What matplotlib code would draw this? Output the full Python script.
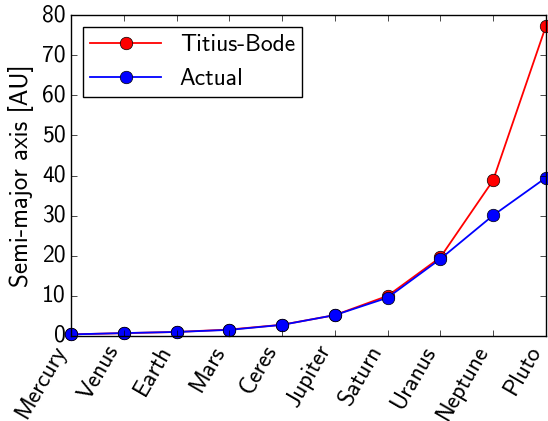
import numpy as np
import matplotlib
matplotlib.use('Agg')
import matplotlib.pyplot as plt

planets = ['Mercury', 'Venus', 'Earth', 'Mars', 'Ceres', 'Jupiter',
           'Saturn', 'Uranus', 'Neptune', 'Pluto']
titius_bode = [0.4, 0.7, 1.0, 1.6, 2.8, 5.2, 10.0, 19.6, 38.8, 77.2]
actual = [0.39, 0.72, 1.0, 1.52, 2.77, 5.2, 9.54, 19.2, 30.06, 39.44]

plt.style.use('classic')
plt.rcParams['font.family'] = ['cmss10', 'DejaVu Sans']
plt.rcParams['font.size'] = 17

fig = plt.figure(figsize=(5.48, 4.21), dpi=100)
ax = fig.add_axes([0.130, 0.202, 0.866, 0.762])

x = np.arange(len(planets))
ax.plot(x, titius_bode, 'r-o', lw=1.3, ms=9, label='Titius-Bode', clip_on=False)
ax.plot(x, actual, 'b-o', lw=1.3, ms=9, label='Actual', clip_on=False)

ax.set_xlim(0, 9)
ax.set_ylim(0, 80)
ax.set_xticks(x)
ax.set_xticklabels(planets, rotation=60, ha='right')
ax.set_ylabel('Semi-major axis [AU]', fontsize=18, labelpad=6)
ax.legend(loc='upper left', numpoints=1, fontsize=17, handlelength=3.0,
          borderpad=0.3)

fig.savefig('out.png', dpi=100)
